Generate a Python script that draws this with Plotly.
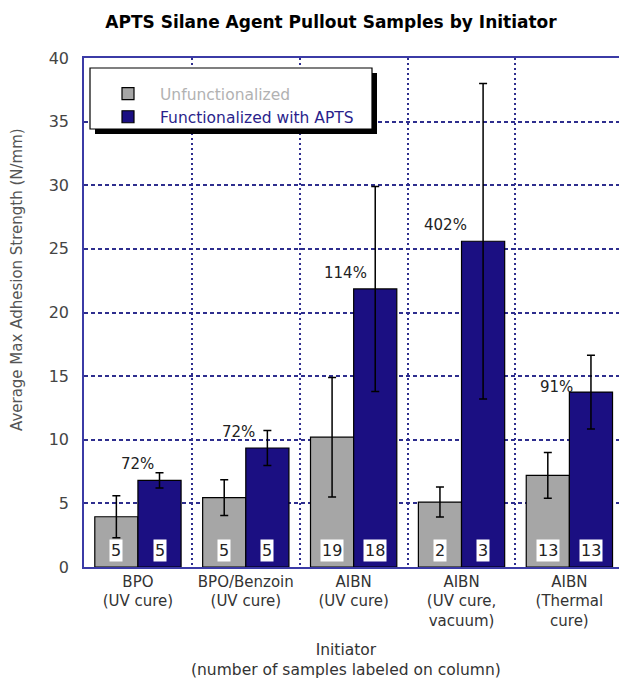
import plotly.graph_objects as go

# ---- data -------------------------------------------------------------
categories = [
    "BPO<br>(UV cure)",
    "BPO/Benzoin<br>(UV cure)",
    "AIBN<br>(UV cure)",
    "AIBN<br>(UV cure,<br>vacuum)",
    "AIBN<br>(Thermal<br>cure)",
]
unfunc_mean = [3.95, 5.45, 10.2, 5.1, 7.2]
unfunc_err = [1.65, 1.4, 4.7, 1.18, 1.8]
func_mean = [6.8, 9.35, 21.85, 25.6, 13.75]
func_err = [0.6, 1.37, 8.05, 12.4, 2.9]
unfunc_n = [5, 5, 19, 2, 13]
func_n = [5, 5, 18, 3, 13]

# ---- styling ----------------------------------------------------------
W, H = 619, 680
ML, MR, MT, MB = 84, 0, 58, 113
FONT = "DejaVu Sans, Verdana, Arial, sans-serif"
GRAY = "#a6a6a6"
NAVY = "#1b0f82"
AXIS = "#3b3ba6"
GRID = "#2e2e8e"


def paper_x(px):
    return (px - ML) / (W - ML - MR)


def paper_y(py):
    return (H - MB - py) / (H - MT - MB)


fig = go.Figure()
fig.add_trace(go.Bar(
    name="<span style='color:#b2b2b2'>Unfunctionalized</span>",
    x=categories, y=unfunc_mean,
    marker=dict(color=GRAY, line=dict(color="black", width=1.2)),
    error_y=dict(type="data", array=unfunc_err, color="black", thickness=1.5, width=4),
))
fig.add_trace(go.Bar(
    name="<span style='color:#2a1f8c'>Functionalized with APTS</span>",
    x=categories, y=func_mean,
    marker=dict(color=NAVY, line=dict(color="black", width=1.2)),
    error_y=dict(type="data", array=func_err, color="black", thickness=1.5, width=4),
))

annotations = []

# sample counts in white boxes at the foot of each column
half_bar = 0.8 * (W - ML - MR) / 4.96 / 4
for i in range(len(categories)):
    for n, dx in ((unfunc_n[i], -half_bar), (func_n[i], half_bar)):
        annotations.append(dict(
            x=i, y=0, xref="x", yref="y", text=str(n), showarrow=False,
            xshift=dx, yshift=5, yanchor="bottom", xanchor="center",
            bgcolor="white", borderpad=1,
            font=dict(family=FONT, size=16, color="#222"),
        ))

# percentage increase above each functionalized column
pct_shift = [(0, 16), (-7, 16), (-8, 16), (-16, 16), (-13, 5)]
for i, (u, f) in enumerate(zip(unfunc_mean, func_mean)):
    dx, dy = pct_shift[i]
    annotations.append(dict(
        x=i, y=f, xref="x", yref="y", text=f"{round((f / u - 1) * 100)}%",
        showarrow=False, xshift=dx, yshift=dy, yanchor="middle",
        font=dict(family=FONT, size=15, color="#222"),
    ))

# axis titles
annotations.append(dict(
    x=paper_x(17), y=paper_y(280), xref="paper", yref="paper",
    text="Average Max Adhesion Strength (N/mm)", textangle=-90, showarrow=False,
    xanchor="center", yanchor="middle",
    font=dict(family=FONT, size=15, color="#555"),
))
annotations.append(dict(
    x=paper_x(346), y=paper_y(639), xref="paper", yref="paper",
    text="Initiator<br>(number of samples labeled on column)", showarrow=False,
    xanchor="center", yanchor="top",
    font=dict(family=FONT, size=15.5, color="#333"),
))

# legend frame with drop shadow
shapes = [
    dict(type="rect", xref="paper", yref="paper", layer="above",
         x0=paper_x(95), x1=paper_x(377), y0=paper_y(134), y1=paper_y(73),
         fillcolor="black", line=dict(width=0)),
    dict(type="rect", xref="paper", yref="paper", layer="above",
         x0=paper_x(90), x1=paper_x(372), y0=paper_y(129), y1=paper_y(68),
         fillcolor="white", line=dict(color="black", width=1.2)),
]

fig.update_layout(
    width=W, height=H,
    margin=dict(l=ML, r=MR, t=MT, b=MB),
    paper_bgcolor="white", plot_bgcolor="white",
    barmode="group", bargap=0.2, bargroupgap=0,
    title=dict(
        text="<b>APTS Silane Agent Pullout Samples by Initiator</b>",
        x=paper_x(331), xref="paper", xanchor="center",
        y=1 - 22 / H, yref="container", yanchor="middle",
        font=dict(family=FONT, size=17, color="black"),
    ),
    legend=dict(
        x=paper_x(96), y=paper_y(77), xref="paper", yref="paper",
        xanchor="left", yanchor="top", itemwidth=54,
        bgcolor="rgba(0,0,0,0)", borderwidth=0,
        font=dict(family=FONT, size=15.5),
        tracegroupgap=0,
    ),
    annotations=annotations,
    shapes=shapes,
    showlegend=True,
)
fig.update_xaxes(
    type="category", range=[-0.5, 4.46], tickson="boundaries", tickangle=0,
    showline=True, linecolor=AXIS, linewidth=1.5, mirror=True,
    showgrid=True, gridcolor=GRID, gridwidth=1.5, griddash="2px,3px",
    ticks="", tickfont=dict(family=FONT, size=15, color="#333"),
)
fig.update_yaxes(
    range=[0, 40], dtick=5,
    showline=True, linecolor=AXIS, linewidth=1.5,
    showgrid=True, gridcolor=GRID, gridwidth=1.5, griddash="4px,3px",
    zeroline=False, ticks="", ticklabelstandoff=10,
    tickfont=dict(family=FONT, size=16, color="#444"),
)

fig.write_html("out.html")
